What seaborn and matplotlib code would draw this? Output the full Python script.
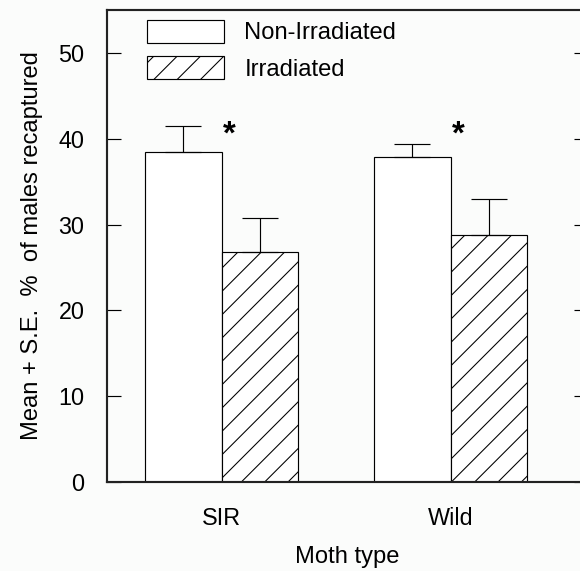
import matplotlib
matplotlib.use("Agg")
import matplotlib.pyplot as plt
import pandas as pd
import seaborn as sns

# ---- data ----
moth_type = ["SIR", "Wild"]
treatments = ["Non-Irradiated", "Irradiated"]
mean_non_irr = [38.5, 37.9]
mean_irr = [26.8, 28.8]
se_non_irr = [3.0, 1.5]
se_irr = [4.0, 4.2]
signif = ["*", "*"]

df = pd.DataFrame({
    "moth": moth_type * 2,
    "treatment": [treatments[0]] * 2 + [treatments[1]] * 2,
    "mean": mean_non_irr + mean_irr,
    "se": se_non_irr + se_irr,
})

sns.set_style("ticks")
plt.rcParams['font.family'] = ['Liberation Sans', 'DejaVu Sans']
plt.rcParams['hatch.linewidth'] = 0.55
plt.rcParams['text.color'] = 'black'
plt.rcParams['axes.labelcolor'] = 'black'
plt.rcParams['xtick.color'] = 'black'
plt.rcParams['ytick.color'] = 'black'

DPI = 140
fig = plt.figure(figsize=(580 / DPI, 571 / DPI), dpi=DPI, facecolor='#fbfcfb')
ax = fig.add_axes([107 / 580, 89 / 571, 481 / 580, 472 / 571])
ax.set_facecolor('#fbfcfb')

sns.barplot(data=df, x="moth", y="mean", hue="treatment", order=moth_type,
            hue_order=treatments, palette=["white", "white"], width=0.667,
            errorbar=None, edgecolor="black", linewidth=0.6, legend=False, ax=ax)

# hatch the irradiated bars, add upper-only S.E. bars
for cont, hatch, t in zip(ax.containers, ["", "//"], treatments):
    sub = df[df.treatment == t].set_index("moth").loc[moth_type]
    xs = []
    for bar in cont.patches:
        bar.set_hatch(hatch)
        xs.append(bar.get_x() + bar.get_width() / 2)
    ax.errorbar(xs, sub["mean"], yerr=[[0] * len(xs), sub["se"]], fmt="none",
                ecolor="black", elinewidth=0.6, capsize=9.5, capthick=0.6, zorder=1)

# significance stars
for i, s in enumerate(signif):
    ax.text(i + 0.032, 39.4, s, ha="center", va="baseline", fontsize=17,
            fontweight="bold")

ax.set_xlim(-0.5, 1.6)
ax.set_ylim(0, 55)
ax.set_yticks([0, 10, 20, 30, 40, 50])
ax.tick_params(axis="y", direction="in", length=7, width=0.6, right=True,
               labelsize=12, pad=11.5)
ax.tick_params(axis="x", length=0, labelsize=12, pad=13)
for sp in ax.spines.values():
    sp.set_linewidth(1.1)
    sp.set_color("#222222")

ax.set_xlabel("Moth type", fontsize=12.2, labelpad=8)
ax.set_ylabel("Mean + S.E.  %  of males recaptured", fontsize=12.2, labelpad=8)

ax.legend(handles=ax.containers, labels=treatments, loc="upper left",
          bbox_to_anchor=(0.083, 0.979), frameon=False, fontsize=12.2,
          borderpad=0, borderaxespad=0, handlelength=3.25, handleheight=1.1,
          handletextpad=0.86, labelspacing=0.5)

fig.savefig("out.png", dpi=DPI, facecolor=fig.get_facecolor())
